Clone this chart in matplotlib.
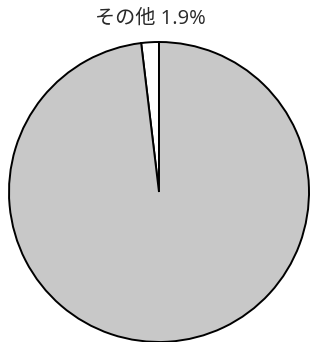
import matplotlib
matplotlib.use("Agg")
import matplotlib.pyplot as plt

plt.rcParams['font.family'] = ['Open Sans', 'Noto Sans CJK JP', 'DejaVu Sans']

labels = ["その他", ""]
values = [1.9, 98.1]
colors = ["#ffffff", "#c8c8c8"]

W, H = 310, 342
fig = plt.figure(figsize=(W / 100, H / 100), dpi=100)

# pie centre ~ (159, 192) px, radius ~150 px
r = 150
lim = 1.02
half = r * lim
cx, cy = 159, 192
ax = fig.add_axes([(cx - half) / W, (H - cy - half) / H, 2 * half / W, 2 * half / H])

wedges, _ = ax.pie(values, colors=colors, startangle=90, counterclock=True,
                   wedgeprops=dict(edgecolor="black", linewidth=1.4))
ax.set_xlim(-lim, lim)
ax.set_ylim(-lim, lim)
ax.set_aspect("equal")
ax.axis("off")

fig.text(150 / W, 1 - 19 / H, f"{labels[0]} {values[0]}%", ha="center", va="center",
         fontsize=14.5, color="#2a2a2a")

fig.savefig("out.png", dpi=100)
